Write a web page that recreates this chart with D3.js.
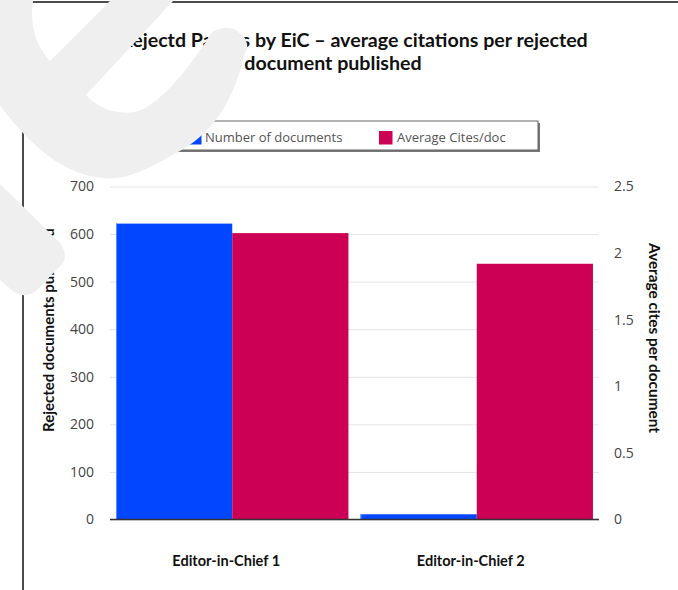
<!DOCTYPE html>
<html>
<head>
<meta charset="utf-8">
<script src="https://cdn.jsdelivr.net/npm/d3@7/dist/d3.min.js"></script>
<style>
  html, body { margin: 0; padding: 0; background: #fff; }
  svg { display: block; }
</style>
</head>
<body>
<svg id="chart" width="678" height="590"></svg>
<script>
// ---- data ----
const categories = ["Editor-in-Chief 1", "Editor-in-Chief 2"];
const seriesNames = ["Number of documents", "Average Cites/doc"];
const numberOfDocuments = [622, 11];
const averageCitesPerDoc = [2.15, 1.92];
const leftTicks = [0, 100, 200, 300, 400, 500, 600, 700];
const rightTicks = [0, 0.5, 1, 1.5, 2, 2.5];
const rightTickLabels = ["0", "0.5", "1", "1.5", "2", "2.5"];
const titleLines = ["Rejectd Papers by EiC \u2013 average citations per rejected", "document published"];
const leftAxisTitle = "Rejected documents published";
const rightAxisTitle = "Average cites per document";

const colors = ["#0047FF", "#CC0055"];
const svg = d3.select("#chart");
const plot = { left: 110, right: 599, top: 186.5, bottom: 519.5 };

// scale a text's font-size so its rendered width equals target
function fitWidth(sel, target) {
  sel.each(function () {
    const el = d3.select(this);
    const fs = parseFloat(el.attr("font-size"));
    const w = this.getComputedTextLength();
    if (w > 0) el.attr("font-size", (fs * target / w).toFixed(2));
  });
}

// frame lines
svg.append("line").attr("x1", 0).attr("x2", 678).attr("y1", 2).attr("y2", 2)
  .attr("stroke", "#111").attr("stroke-width", 1.5);
svg.append("line").attr("x1", 23).attr("x2", 23).attr("y1", 0).attr("y2", 590)
  .attr("stroke", "#111").attr("stroke-width", 1.5);

// scales
const x = d3.scaleBand().domain(categories).range([plot.left, plot.right]).paddingInner(0).paddingOuter(0);
const xInner = d3.scaleBand().domain([0, 1]).range([0, x.bandwidth()]).paddingInner(0).paddingOuter(0.052);
const yL = d3.scaleLinear().domain([0, 700]).range([plot.bottom, plot.top]);
const yR = d3.scaleLinear().domain([0, 2.5]).range([plot.bottom, plot.top]);

// gridlines
const gridG = svg.append("g").attr("transform", `translate(${plot.left},0)`)
  .call(d3.axisLeft(yL).tickValues(leftTicks).tickSize(-(plot.right - plot.left)).tickFormat(""));
gridG.select(".domain").remove();
gridG.selectAll(".tick line").attr("stroke", "#e4e4e4").attr("stroke-width", 1);

// left tick labels
const leftAxisG = svg.append("g").attr("transform", `translate(${plot.left},0)`)
  .call(d3.axisLeft(yL).tickValues(leftTicks).tickSize(0).tickPadding(16).tickFormat(d3.format("d")));
leftAxisG.select(".domain").remove();
leftAxisG.selectAll("text").attr("font-family", "'Open Sans', sans-serif").attr("font-size", 14)
  .attr("fill", "#444");

// right tick labels
const rightAxisG = svg.append("g").attr("transform", `translate(${plot.right},0)`)
  .call(d3.axisRight(yR).tickValues(rightTicks).tickSize(0).tickPadding(15)
    .tickFormat((d, i) => rightTickLabels[i]));
rightAxisG.select(".domain").remove();
rightAxisG.selectAll("text").attr("font-family", "'Open Sans', sans-serif").attr("font-size", 14)
  .attr("fill", "#444");

// bars
const groups = svg.append("g").selectAll("g").data(categories).join("g")
  .attr("transform", d => `translate(${x(d)},0)`);
groups.append("rect")
  .attr("x", xInner(0)).attr("width", xInner.bandwidth())
  .attr("y", (d, i) => yL(numberOfDocuments[i]))
  .attr("height", (d, i) => yL(0) - yL(numberOfDocuments[i]))
  .attr("fill", colors[0]);
groups.append("line")
  .attr("x1", xInner(0) + 0.5).attr("x2", xInner(0) + 0.5)
  .attr("y1", (d, i) => yL(numberOfDocuments[i])).attr("y2", yL(0))
  .attr("stroke", "#5a8cff").attr("stroke-width", 1);
groups.append("rect")
  .attr("x", xInner(1)).attr("width", xInner.bandwidth())
  .attr("y", (d, i) => yR(averageCitesPerDoc[i]))
  .attr("height", (d, i) => yR(0) - yR(averageCitesPerDoc[i]))
  .attr("fill", colors[1]);

// baseline
svg.append("line").attr("x1", plot.left).attr("x2", plot.right)
  .attr("y1", yL(0)).attr("y2", yL(0)).attr("stroke", "#333").attr("stroke-width", 1.5);

// category labels
svg.append("g").selectAll("text").data(categories).join("text")
  .attr("x", d => x(d) + x.bandwidth() / 2 - 6)
  .attr("y", 566)
  .attr("text-anchor", "middle")
  .attr("font-family", "Lato, sans-serif").attr("font-weight", 700).attr("font-size", 12.5)
  .attr("fill", "#111")
  .text(d => d)
  .call(fitWidth, 108);

// axis titles
svg.append("text")
  .attr("transform", "translate(54,432) rotate(-90)")
  .attr("text-anchor", "start")
  .attr("font-family", "Lato, sans-serif").attr("font-weight", 700).attr("font-size", 13)
  .attr("fill", "#111").text(leftAxisTitle)
  .call(fitWidth, 204);
svg.append("text")
  .attr("transform", "translate(649,338) rotate(90)")
  .attr("text-anchor", "middle")
  .attr("font-family", "Lato, sans-serif").attr("font-weight", 700).attr("font-size", 13)
  .attr("fill", "#111").text(rightAxisTitle)
  .call(fitWidth, 190);

// title
const titleCenters = [354, 333];
const titleG = svg.append("g");
const titleTexts = titleG.selectAll("text").data(titleLines).join("text")
  .attr("x", (d, i) => titleCenters[i])
  .attr("y", (d, i) => 47 + i * 23)
  .attr("text-anchor", "middle")
  .attr("font-family", "Lato, sans-serif").attr("font-weight", 700).attr("font-size", 17.5)
  .attr("fill", "#111")
  .text(d => d);
{
  const first = titleTexts.filter((d, i) => i === 0);
  fitWidth(first, 468);
  titleTexts.attr("font-size", first.attr("font-size"));
}

// legend
const legend = svg.append("g");
legend.append("rect").attr("x", 172).attr("y", 123).attr("width", 368).attr("height", 29)
  .attr("fill", "#777");
legend.append("rect").attr("x", 170).attr("y", 121).attr("width", 368).attr("height", 29)
  .attr("fill", "#fff").attr("stroke", "#666").attr("stroke-width", 1);
const legendItems = [{ sx: 188, tx: 205 }, { sx: 379, tx: 397 }];
legend.selectAll("rect.sw").data(seriesNames).join("rect").attr("class", "sw")
  .attr("x", (d, i) => legendItems[i].sx).attr("y", 131).attr("width", 13.5).attr("height", 13.5)
  .attr("fill", (d, i) => colors[i]);
legend.selectAll("text").data(seriesNames).join("text")
  .attr("x", (d, i) => legendItems[i].tx).attr("y", 142)
  .attr("font-family", "'Open Sans', sans-serif").attr("font-size", 13)
  .attr("fill", "#555").text(d => d);

// watermark overlay
const wm = svg.append("g").attr("fill", "#efefef").attr("stroke", "#efefef")
  .attr("stroke-width", 3).attr("stroke-linejoin", "round");
wm.append("path").attr("d",
  "M0,0 L31.7,0 C28,20 32,45 50,63 L113,0 L172,0 L84,95 " +
  "C105,118 135,118 150,107 C175,90 195,60 207,43 " +
  "C212,30 228,24 240,35 C248,42 246,50 243,53 " +
  "C236,85 226,105 213,121 C200,137 188,145 173,153 " +
  "C150,166 130,177 110,177 C70,177 35,150 0,103 Z");
wm.append("path").attr("d",
  "M0,186 L55,240 Q67,251 62,262 L36,289 Q25,298 14,290 L0,278 Z");
</script>
</body>
</html>
